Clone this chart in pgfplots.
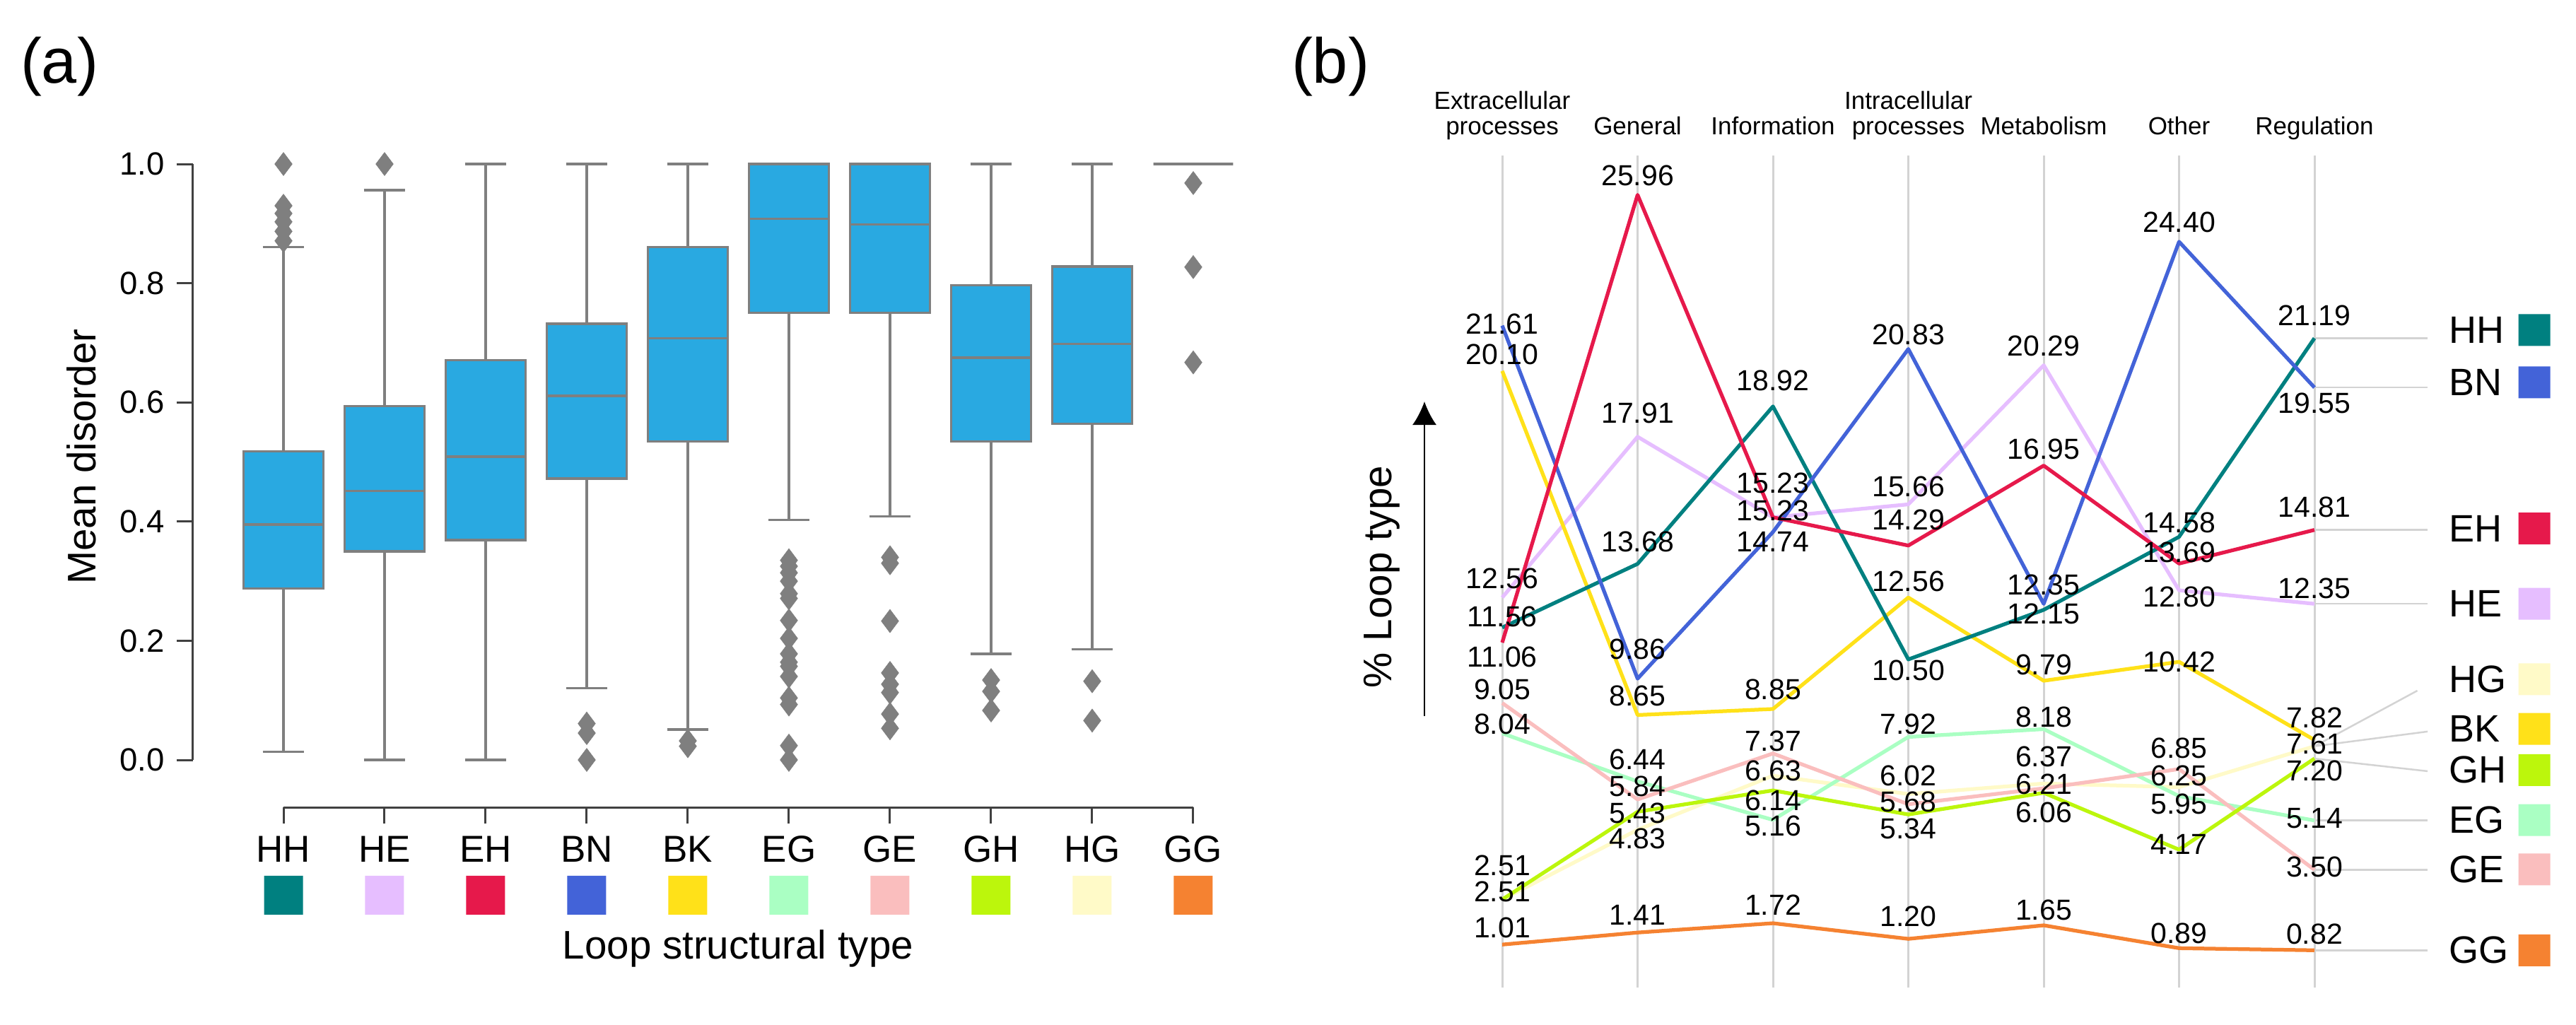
\documentclass[border=0pt]{standalone}
\usepackage{fontspec}
\setmainfont{Liberation Sans}
\usepackage{pgfplots}
\pgfplotsset{compat=1.18}
\usepgfplotslibrary{statistics}
\usetikzlibrary{arrows.meta}

\definecolor{hhc}{HTML}{008080}
\definecolor{hec}{HTML}{E6BEFF}
\definecolor{ehc}{HTML}{E6194B}
\definecolor{bnc}{HTML}{4363D8}
\definecolor{bkc}{HTML}{FFE119}
\definecolor{egc}{HTML}{AAFFC3}
\definecolor{gec}{HTML}{FABEBE}
\definecolor{ghc}{HTML}{BCF60C}
\definecolor{hgc}{HTML}{FFFAC8}
\definecolor{ggc}{HTML}{F58231}
\definecolor{bblue}{HTML}{29A9E1}
\definecolor{bgray}{HTML}{7F7F7F}
\definecolor{lgray}{HTML}{D3D3D3}

% rounded square mark
\pgfdeclareplotmark{rsq}{%
  \pgfsetcornersarced{\pgfqpoint{.35\pgfplotmarksize}{.35\pgfplotmarksize}}%
  \pgfpathmoveto{\pgfqpoint{-\pgfplotmarksize}{0pt}}%
  \pgfpathlineto{\pgfqpoint{-\pgfplotmarksize}{\pgfplotmarksize}}%
  \pgfpathlineto{\pgfqpoint{\pgfplotmarksize}{\pgfplotmarksize}}%
  \pgfpathlineto{\pgfqpoint{\pgfplotmarksize}{-\pgfplotmarksize}}%
  \pgfpathlineto{\pgfqpoint{-\pgfplotmarksize}{-\pgfplotmarksize}}%
  \pgfpathclose
  \pgfusepathqfill}

\pgfplotsset{
  bx/.style={draw=bgray, line width=0.65pt, solid, mark=diamond*, mark size=3.3pt,
    mark options={fill=bgray, draw=bgray, line width=0.1pt},
    boxplot/draw direction=y,
    boxplot/box extend=0.79, boxplot/whisker extend=0.41,
    boxplot/every box/.style={fill=bblue, draw=bgray},
    boxplot/every median/.style={draw=bgray},
    boxplot/every whisker/.style={draw=bgray}},
  lbl/.style={nodes near coords={\pgfplotspointmeta}, point meta=explicit symbolic,
    visualization depends on={\thisrow{up}\as\up},
    every node near coord/.style={anchor=center, yshift=\up*0.2pt, inner sep=0pt,
      text=black, font=\fontsize{8.2}{9}\selectfont}},
  ln/.style={line width=1.05pt, line join=round, mark=none},
}

\begin{document}
\begin{tikzpicture}[x=1pt,y=1pt]
\useasboundingbox (0,0) rectangle (728.8,289.8);

% ---------- (a) box plots ----------
\begin{axis}[
  at={(80.2pt,74.8pt)}, anchor=south west, scale only axis,
  width=257.4pt, height=168.6pt,
  xmin=0, xmax=9, ymin=0, ymax=1, clip=false,
  axis x line*=bottom, axis y line*=left,
  axis x line shift=13.4pt, axis y line shift=25.6pt,
  axis line style={-, draw=black!75, line width=0.6pt},
  tick style={draw=black!75, line width=0.6pt},
  tick align=outside, major tick length=4.6pt,
  xtick={0,...,9}, xticklabels={HH,HE,EH,BN,BK,EG,GE,GH,HG,GG},
  xticklabel style={font=\fontsize{10.6}{12}\selectfont},
  ytick={0,0.2,0.4,0.6,0.8,1.0},
  yticklabel style={font=\fontsize{9.1}{11}\selectfont,
    /pgf/number format/fixed, /pgf/number format/fixed zerofill,
    /pgf/number format/precision=1},
  /pgf/number format/assume math mode=true,
]
\addplot[bx, boxplot prepared={draw position=0, lower whisker=0.014, lower quartile=0.288,
  median=0.395, upper quartile=0.518, upper whisker=0.861}]
  table[row sep=\\, y index=0] {d\\1.0\\0.930\\0.917\\0.903\\0.887\\0.871\\};
\addplot[bx, boxplot prepared={draw position=1, lower whisker=0.0, lower quartile=0.350,
  median=0.451, upper quartile=0.594, upper whisker=0.956}]
  table[row sep=\\, y index=0] {d\\1.0\\};
\addplot[bx, boxplot prepared={draw position=2, lower whisker=0.0, lower quartile=0.369,
  median=0.509, upper quartile=0.671, upper whisker=1.0}] coordinates {};
\addplot[bx, boxplot prepared={draw position=3, lower whisker=0.120, lower quartile=0.472,
  median=0.611, upper quartile=0.732, upper whisker=1.0}]
  table[row sep=\\, y index=0] {d\\0.061\\0.045\\0.0\\};
\addplot[bx, boxplot prepared={draw position=4, lower whisker=0.051, lower quartile=0.534,
  median=0.708, upper quartile=0.861, upper whisker=1.0}]
  table[row sep=\\, y index=0] {d\\0.032\\0.023\\};
\addplot[bx, boxplot prepared={draw position=5, lower whisker=0.403, lower quartile=0.750,
  median=0.908, upper quartile=1.0, upper whisker=1.0}]
  table[row sep=\\, y index=0] {d\\0.335\\0.325\\0.314\\0.300\\0.279\\0.271\\0.234\\0.204\\0.178\\0.164\\0.157\\0.140\\0.104\\0.093\\0.024\\0.0\\};
\addplot[bx, boxplot prepared={draw position=6, lower whisker=0.409, lower quartile=0.750,
  median=0.899, upper quartile=1.0, upper whisker=1.0}]
  table[row sep=\\, y index=0] {d\\0.340\\0.330\\0.233\\0.146\\0.127\\0.113\\0.077\\0.053\\};
\addplot[bx, boxplot prepared={draw position=7, lower whisker=0.178, lower quartile=0.534,
  median=0.675, upper quartile=0.797, upper whisker=1.0}]
  table[row sep=\\, y index=0] {d\\0.134\\0.115\\0.083\\};
\addplot[bx, boxplot prepared={draw position=8, lower whisker=0.186, lower quartile=0.564,
  median=0.698, upper quartile=0.828, upper whisker=1.0}]
  table[row sep=\\, y index=0] {d\\0.132\\0.066\\};
\addplot[bx, boxplot prepared={draw position=9, lower whisker=1.0, lower quartile=1.0,
  median=1.0, upper quartile=1.0, upper whisker=1.0}]
  table[row sep=\\, y index=0] {d\\0.968\\0.827\\0.667\\};
% colour keys under the category names
\addplot[only marks, mark=rsq, mark size=5.5pt, color=hhc] coordinates {(0,-0.227)};
\addplot[only marks, mark=rsq, mark size=5.5pt, color=hec] coordinates {(1,-0.227)};
\addplot[only marks, mark=rsq, mark size=5.5pt, color=ehc] coordinates {(2,-0.227)};
\addplot[only marks, mark=rsq, mark size=5.5pt, color=bnc] coordinates {(3,-0.227)};
\addplot[only marks, mark=rsq, mark size=5.5pt, color=bkc] coordinates {(4,-0.227)};
\addplot[only marks, mark=rsq, mark size=5.5pt, color=egc] coordinates {(5,-0.227)};
\addplot[only marks, mark=rsq, mark size=5.5pt, color=gec] coordinates {(6,-0.227)};
\addplot[only marks, mark=rsq, mark size=5.5pt, color=ghc] coordinates {(7,-0.227)};
\addplot[only marks, mark=rsq, mark size=5.5pt, color=hgc] coordinates {(8,-0.227)};
\addplot[only marks, mark=rsq, mark size=5.5pt, color=ggc] coordinates {(9,-0.227)};
\end{axis}

\node[font=\fontsize{18}{20}\selectfont] at (16.8,271) {(a)};
\node[rotate=90, font=\fontsize{11.3}{13}\selectfont] at (23,160.6) {Mean disorder};
\node[font=\fontsize{11.3}{13}\selectfont] at (208.8,21.4) {Loop structural type};

% ---------- (b) percentages per category ----------
\begin{axis}[
  at={(425pt,10.4pt)}, anchor=south west, scale only axis,
  width=229.8pt, height=235.4pt,
  xmin=0, xmax=6, ymin=-0.42, ymax=27.27, clip=false,
  axis line style={draw=none}, major tick length=0pt,
  ytick=\empty, xtick={0,...,6},
  xticklabels={{Extracellular\\processes},General,Information,{Intracellular\\processes},Metabolism,Other,Regulation},
  xticklabel pos=right, xtick pos=right,
  xticklabel style={anchor=south, align=center, inner sep=0pt, text depth=0pt,
    yshift=5.7pt, font=\fontsize{7}{7.2}\selectfont},
  xmajorgrids, grid style={draw=lgray, line width=0.6pt},
]
% leader lines to the legend
\addplot[lgray, line width=0.5pt] coordinates {(6,21.19) (6.836,21.19)};
\addplot[lgray, line width=0.5pt] coordinates {(6,19.55) (6.836,19.55)};
\addplot[lgray, line width=0.5pt] coordinates {(6,14.81) (6.836,14.81)};
\addplot[lgray, line width=0.5pt] coordinates {(6,12.35) (6.836,12.35)};
\addplot[lgray, line width=0.5pt] coordinates {(6,7.61) (6.76,9.46)};
\addplot[lgray, line width=0.5pt] coordinates {(6,7.61) (6.836,8.10)};
\addplot[lgray, line width=0.5pt] coordinates {(6,7.20) (6.836,6.78)};
\addplot[lgray, line width=0.5pt] coordinates {(6,5.14) (6.836,5.14)};
\addplot[lgray, line width=0.5pt] coordinates {(6,3.50) (6.836,3.50)};
\addplot[lgray, line width=0.5pt] coordinates {(6,0.82) (6.836,0.82)};

\addplot[ln, color=hgc, lbl] table[x=x, y=y, meta=y] {
x y up
0 2.51 11
1 4.83 -13
2 6.63 7
3 6.02 26
4 6.37 38
5 6.25 16
6 7.61 3
};
\addplot[ln, color=egc, lbl] table[x=x, y=y, meta=y] {
x y up
0 8.04 13
1 6.44 31
2 5.16 -9
3 7.92 18
4 8.18 17
5 5.95 -11
6 5.14 3
};
\addplot[ln, color=gec, lbl] table[x=x, y=y, meta=y] {
x y up
0 9.05 19
1 5.84 19
2 7.37 17
3 5.68 3
4 6.21 6
5 6.85 30
6 3.50 4
};
\addplot[ln, color=ghc, lbl] table[x=x, y=y, meta=y] {
x y up
0 2.51 48
1 5.43 -2
2 6.14 -14
3 5.34 -20
4 6.06 -28
5 4.17 8
6 7.20 -17
};
\addplot[ln, color=hec, lbl] table[x=x, y=y, meta=y] {
x y up
0 12.56 27
1 17.91 33
2 15.23 9
3 15.66 25
4 20.29 27
5 12.80 -9
6 12.35 22
};
\addplot[ln, color=bkc, lbl] table[x=x, y=y, meta=y] {
x y up
0 20.10 23
1 8.65 27
2 8.85 28
3 12.56 23
4 9.79 23
5 10.42 0
6 7.82 31
};
\addplot[ln, color=hhc, lbl] table[x=x, y=y, meta=y] {
x y up
0 11.56 15
1 13.68 31
2 18.92 37
3 10.50 -16
4 12.15 -6
5 14.58 20
6 21.19 32
};
\addplot[ln, color=bnc, lbl] table[x=x, y=y, meta=y] {
x y up
0 21.61 2
1 9.86 42
2 14.74 -14
3 20.83 20
4 12.35 27
5 24.40 28
6 19.55 -22
};
\addplot[ln, color=ehc, lbl] table[x=x, y=y, meta=y] {
x y up
0 11.06 -20
1 25.96 27
2 15.23 48
3 14.29 36
4 16.95 23
5 13.69 16
6 14.81 32
};
\addplot[ln, color=ggc, lbl] table[x=x, y=y, meta=y] {
x y up
0 1.01 24
1 1.41 25
2 1.72 26
3 1.20 32
4 1.65 22
5 0.89 21
6 0.82 23
};

% legend squares
\addplot[only marks, mark=rsq, mark size=4.5pt, color=hhc] coordinates {(7.624,21.46)};
\addplot[only marks, mark=rsq, mark size=4.5pt, color=bnc] coordinates {(7.624,19.72)};
\addplot[only marks, mark=rsq, mark size=4.5pt, color=ehc] coordinates {(7.624,14.86)};
\addplot[only marks, mark=rsq, mark size=4.5pt, color=hec] coordinates {(7.624,12.35)};
\addplot[only marks, mark=rsq, mark size=4.5pt, color=hgc] coordinates {(7.624,9.84)};
\addplot[only marks, mark=rsq, mark size=4.5pt, color=bkc] coordinates {(7.624,8.19)};
\addplot[only marks, mark=rsq, mark size=4.5pt, color=ghc] coordinates {(7.624,6.82)};
\addplot[only marks, mark=rsq, mark size=4.5pt, color=egc] coordinates {(7.624,5.15)};
\addplot[only marks, mark=rsq, mark size=4.5pt, color=gec] coordinates {(7.624,3.51)};
\addplot[only marks, mark=rsq, mark size=4.5pt, color=ggc] coordinates {(7.624,0.82)};

\begin{scope}[every node/.style={anchor=west, inner sep=0pt, font=\fontsize{10.8}{12}\selectfont}]
\node at (axis cs:6.987,21.46) {HH};
\node at (axis cs:6.987,19.72) {BN};
\node at (axis cs:6.987,14.86) {EH};
\node at (axis cs:6.987,12.35) {HE};
\node at (axis cs:6.987,9.84) {HG};
\node at (axis cs:6.987,8.19) {BK};
\node at (axis cs:6.987,6.82) {GH};
\node at (axis cs:6.987,5.15) {EG};
\node at (axis cs:6.987,3.51) {GE};
\node at (axis cs:6.987,0.82) {GG};
\end{scope}
\end{axis}

\node[font=\fontsize{18}{20}\selectfont] at (376.4,271) {(b)};
\node[rotate=90, font=\fontsize{11.3}{13}\selectfont] at (391,126.6) {\% Loop type};
\draw[line width=0.45pt, -{Latex[length=6.6pt, width=6.8pt]}] (403,87.2) -- (403,176.2);
\end{tikzpicture}
\end{document}
